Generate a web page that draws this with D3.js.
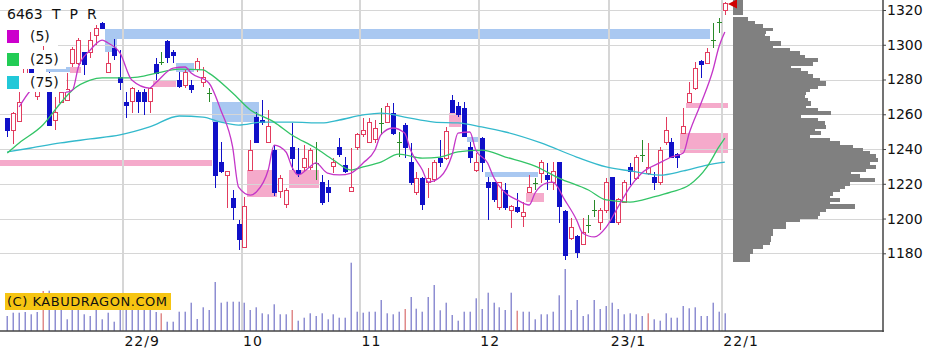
<!DOCTYPE html>
<html>
<head>
<meta charset="utf-8">
<script src="https://cdn.jsdelivr.net/npm/d3@7"></script>
<style>
  html, body { margin: 0; padding: 0; background: #fff; }
  svg { display: block; font-family: "DejaVu Sans", Verdana, sans-serif; }
</style>
</head>
<body>
<div id="chart"></div>
<script>
// daily candles, [open, high, low, close]
const ohlc = [
  [1257.3, 1257.9, 1246.9, 1250.4], [1250.4, 1261.3, 1242.9, 1260.7], [1256.1, 1274.0, 1255.5, 1266.5],
  [1276.0, 1290.0, 1274.5, 1287.0], [1290.0, 1293.0, 1281.0, 1284.0], [1270.0, 1284.0, 1268.2, 1276.0],
  [1288.0, 1299.0, 1287.2, 1294.0], [1274.0, 1284.3, 1253.3, 1253.8], [1256.7, 1269.9, 1250.9, 1261.3],
  [1266.5, 1274.0, 1266.5, 1272.8], [1268.2, 1283.7, 1268.2, 1274.0], [1289.5, 1298.7, 1287.2, 1297.0],
  [1289.5, 1303.9, 1288.4, 1302.7], [1295.3, 1295.8, 1282.6, 1288.4], [1295.3, 1307.3, 1292.4, 1302.7],
  [1305.6, 1311.4, 1299.8, 1309.6], [1312.5, 1313.0, 1309.1, 1309.6], [1284.3, 1295.8, 1283.7, 1289.5],
  [1298.1, 1303.3, 1291.2, 1294.1], [1280.9, 1297.0, 1274.0, 1278.0], [1266.5, 1272.8, 1257.9, 1264.8],
  [1267.1, 1275.7, 1260.7, 1275.1], [1272.8, 1274.0, 1260.7, 1267.1], [1272.8, 1274.5, 1259.6, 1267.1],
  [1267.1, 1275.7, 1260.7, 1275.1], [1288.4, 1292.4, 1279.7, 1283.7], [1290.1, 1295.8, 1288.4, 1290.1],
  [1301.6, 1302.7, 1289.5, 1292.9], [1295.8, 1297.0, 1289.5, 1294.1], [1279.7, 1284.3, 1275.1, 1275.7],
  [1276.8, 1285.5, 1275.1, 1284.3], [1276.8, 1279.7, 1272.2, 1274.0], [1285.5, 1292.4, 1284.3, 1290.1],
  [1278.0, 1287.2, 1275.7, 1280.9], [1272.2, 1275.1, 1267.1, 1272.2], [1255.5, 1255.5, 1217.6, 1225.0],
  [1232.0, 1243.8, 1226.2, 1226.8], [1225.0, 1226.8, 1206.1, 1226.8], [1211.8, 1216.4, 1199.2, 1206.1],
  [1196.3, 1199.2, 1181.9, 1187.7], [1183.1, 1212.4, 1183.1, 1206.7], [1227.9, 1245.2, 1227.9, 1239.4],
  [1257.9, 1261.3, 1243.2, 1244.0], [1256.7, 1268.2, 1253.8, 1255.0], [1244.0, 1262.5, 1243.2, 1252.7],
  [1239.4, 1242.3, 1213.0, 1214.7], [1215.3, 1225.0, 1211.8, 1223.3], [1207.8, 1217.6, 1206.1, 1216.4],
  [1240.6, 1255.0, 1227.9, 1234.8], [1227.9, 1240.6, 1223.9, 1226.2], [1229.1, 1242.3, 1226.8, 1234.8],
  [1229.1, 1240.6, 1227.9, 1239.4], [1232.0, 1244.0, 1222.2, 1232.0], [1220.5, 1225.0, 1208.0, 1209.5],
  [1217.6, 1222.2, 1209.5, 1214.7], [1229.7, 1234.8, 1226.2, 1232.5], [1240.6, 1246.3, 1235.4, 1236.6],
  [1230.8, 1235.4, 1226.2, 1226.8], [1215.3, 1240.6, 1215.3, 1217.6], [1240.6, 1249.2, 1239.4, 1248.1],
  [1248.1, 1257.9, 1246.9, 1250.9], [1244.0, 1257.9, 1243.2, 1255.0], [1245.2, 1256.7, 1243.2, 1252.1],
  [1255.0, 1263.6, 1248.1, 1255.0], [1255.5, 1266.5, 1255.0, 1264.2], [1260.7, 1266.5, 1248.1, 1249.2],
  [1244.0, 1249.8, 1235.4, 1244.0], [1253.8, 1255.0, 1234.8, 1240.6], [1232.5, 1243.5, 1219.3, 1220.5],
  [1214.7, 1226.8, 1213.5, 1223.3], [1223.3, 1223.9, 1204.9, 1207.8], [1220.5, 1229.1, 1211.8, 1223.3],
  [1222.2, 1233.7, 1221.0, 1232.0], [1234.8, 1245.2, 1229.7, 1232.0], [1234.8, 1252.7, 1233.7, 1249.8],
  [1268.2, 1271.1, 1260.7, 1261.0], [1264.2, 1267.1, 1258.4, 1259.6], [1263.6, 1267.1, 1246.9, 1247.0],
  [1240.6, 1244.0, 1232.0, 1235.4], [1227.9, 1237.7, 1226.8, 1232.5], [1246.3, 1246.9, 1226.8, 1232.5],
  [1221.0, 1223.9, 1199.2, 1217.6], [1220.5, 1221.0, 1209.5, 1210.7], [1206.1, 1221.0, 1204.9, 1220.5],
  [1216.4, 1220.5, 1204.9, 1206.1], [1204.9, 1207.8, 1194.6, 1206.7], [1206.1, 1214.7, 1203.2, 1203.8],
  [1200.9, 1209.5, 1195.1, 1203.2], [1214.7, 1225.0, 1214.7, 1217.6], [1220.5, 1223.3, 1216.4, 1220.5],
  [1226.2, 1233.7, 1220.5, 1232.5], [1225.0, 1231.7, 1216.4, 1222.2], [1220.5, 1232.5, 1216.4, 1226.8],
  [1232.0, 1232.0, 1197.4, 1206.7], [1203.8, 1204.9, 1176.2, 1179.0], [1188.8, 1200.3, 1187.7, 1194.6],
  [1189.4, 1190.5, 1177.3, 1180.2], [1184.8, 1200.3, 1184.8, 1191.7], [1196.3, 1202.0, 1191.7, 1196.3],
  [1204.9, 1210.7, 1200.9, 1204.9], [1198.0, 1206.1, 1193.4, 1204.9], [1204.9, 1223.3, 1203.2, 1220.5],
  [1223.9, 1223.9, 1197.4, 1198.0], [1198.0, 1211.8, 1196.3, 1210.7], [1209.0, 1222.2, 1209.0, 1221.0],
  [1229.1, 1232.0, 1219.3, 1226.8], [1223.3, 1236.6, 1222.2, 1235.4], [1236.6, 1245.2, 1232.5, 1236.6],
  [1226.2, 1243.5, 1225.0, 1229.1], [1223.9, 1226.8, 1216.4, 1220.5], [1220.5, 1241.2, 1219.3, 1239.4],
  [1243.5, 1258.4, 1242.3, 1250.9], [1244.0, 1246.3, 1234.8, 1235.4], [1237.1, 1237.7, 1229.1, 1235.4],
  [1249.2, 1263.6, 1249.2, 1252.7], [1266.5, 1278.4, 1266.5, 1272.2], [1275.1, 1290.1, 1274.0, 1286.6],
  [1290.1, 1291.2, 1280.9, 1288.4], [1289.5, 1298.1, 1289.5, 1295.3], [1302.7, 1312.5, 1298.1, 1302.7],
  [1313.1, 1315.4, 1306.8, 1313.1], [1320.0, 1324.6, 1317.1, 1323.5]
];

// daily volume (thousand shares)
const volume = [
  15, 18.3, 18.3, 19, 16.7, 19, 40, 40.3, 22, 22, 11.7, 22, 22, 16.7, 15, 21, 11.7, 18.3, 9.3, 24,
  22, 23, 22, 22, 22, 19, 17.7, 9.3, 9.3, 19.3, 19.3, 28.3, 12, 23.7, 21, 49, 28.3, 29.3, 29.3, 29.3,
  28.3, 21, 23.7, 17.7, 16.7, 26.7, 16.7, 16.7, 21, 10.3, 13.3, 17.7, 15, 17.7, 11.7, 16.7, 13.3, 13.3, 68.3, 19.3,
  18.3, 19.3, 19.3, 31, 17.7, 16.7, 19.3, 22, 34, 22.3, 19.3, 34, 46, 20.7, 28.3, 16, 10.3, 19.3, 19.3, 32.7,
  22, 38.3, 28.3, 23.7, 21, 38.3, 20.3, 19.3, 19.3, 11.7, 16.7, 16.7, 19.3, 35.7, 62, 21, 31, 15, 16.7, 31,
  22, 25, 28.3, 22, 16.7, 17.7, 16.7, 15, 17.7, 11.7, 10.3, 17.7, 13.3, 13.3, 25, 22.7, 23.7, 15, 15, 28.3,
  19.3, 17.7
];
const markedVolumeDays = [6, 26, 48, 67, 86, 108];

// moving averages, [day index, price]
const ma5 = [
  [2, 1264.2], [4, 1274.0], [5, 1276.8], [10, 1272.8], [11, 1274.0], [12, 1287.2], [14, 1297.0], [16, 1302.7],
  [17, 1301.0], [19, 1295.3], [21, 1279.7], [24, 1275.1], [25, 1278.0], [28, 1286.6], [30, 1287.2], [31, 1283.7],
  [34, 1278.0], [36, 1262.5], [38, 1241.2], [39, 1218.1], [41, 1213.5], [42, 1215.3], [44, 1227.9], [45, 1242.3],
  [47, 1238.3], [48, 1229.7], [49, 1225.1], [51, 1229.7], [52, 1232.0], [54, 1226.2], [56, 1225.1], [58, 1226.2],
  [60, 1232.0], [62, 1239.4], [63, 1248.1], [65, 1252.1], [67, 1249.2], [68, 1239.4], [70, 1227.9], [71, 1221.0],
  [73, 1223.9], [75, 1236.6], [76, 1249.2], [78, 1249.8], [79, 1239.4], [81, 1232.0], [82, 1223.9], [84, 1214.7],
  [86, 1210.7], [88, 1207.8], [89, 1214.7], [91, 1220.5], [92, 1221.0], [94, 1210.7], [96, 1199.2], [97, 1191.7],
  [99, 1189.4], [101, 1195.1], [103, 1206.7], [105, 1218.1], [107, 1226.2], [110, 1232.0], [112, 1235.4],
  [114, 1237.7], [115, 1249.2], [117, 1266.5], [119, 1285.5], [120, 1298.7], [121, 1307.3]
];
const ma25 = [
  [0, 1237.7], [2, 1243.5], [6, 1253.8], [9, 1266.5], [11, 1274.0], [14, 1279.7], [16, 1280.9], [19, 1280.9],
  [22, 1281.4], [26, 1284.3], [29, 1286.0], [33, 1285.5], [34, 1283.7], [38, 1272.2], [41, 1262.5], [45, 1255.5],
  [48, 1248.1], [52, 1240.6], [55, 1233.7], [58, 1227.9], [60, 1229.7], [63, 1232.5], [66, 1237.1], [70, 1234.8],
  [73, 1235.4], [76, 1238.3], [80, 1239.4], [84, 1235.4], [89, 1230.2], [93, 1223.3], [98, 1216.4], [101, 1210.7],
  [105, 1209.5], [109, 1212.4], [112, 1215.3], [115, 1219.3], [118, 1229.7], [120, 1241.2], [121, 1246.3]
];
const ma75 = [
  [0, 1238.3], [4, 1240.6], [9, 1243.5], [14, 1245.8], [19, 1248.1], [24, 1252.7], [29, 1259.0], [33, 1258.4],
  [36, 1255.5], [39, 1253.8], [43, 1255.5], [48, 1255.5], [53, 1255.0], [56, 1256.7], [60, 1259.6], [63, 1260.7],
  [67, 1258.4], [72, 1255.5], [76, 1255.0], [80, 1252.7], [84, 1249.8], [90, 1243.5], [96, 1235.4], [101, 1229.7],
  [105, 1227.4], [110, 1225.0], [114, 1227.4], [118, 1230.8], [121, 1232.5]
];

// price gaps (windows): [first day, last day, low, high, direction]
const gaps = [
  [0, 34, 1230.2, 1233.7, "up"], [7, 10, 1284.3, 1287.2, "down"], [11, 12, 1283.7, 1287.2, "up"],
  [17, 18, 1295.8, 1303.3, "down"], [17, 118, 1303.3, 1309.1, "down"], [25, 28, 1275.7, 1279.7, "up"],
  [29, 31, 1284.3, 1289.5, "down"], [35, 42, 1255.5, 1267.1, "down"], [41, 45, 1212.4, 1227.9, "up"],
  [48, 52, 1217.6, 1227.9, "up"], [75, 76, 1252.7, 1260.7, "up"], [78, 79, 1244.0, 1246.9, "down"],
  [81, 89, 1223.9, 1226.8, "down"], [88, 90, 1209.5, 1214.7, "up"], [114, 121, 1237.7, 1249.2, "up"],
  [115, 121, 1263.6, 1266.5, "up"]
];

// volume by price (bin edges high to low, and volume per bin)
const profileEdges = [
  1315.8, 1313.3, 1311.9, 1309.4, 1308.1, 1306.6, 1304.6, 1301.8, 1299.8, 1297.9, 1296.0, 1294.1, 1292.2,
  1290.3, 1288.3, 1286.4, 1284.5, 1282.6, 1280.7, 1278.8, 1276.8, 1274.9, 1273.0, 1271.1, 1269.2, 1267.2,
  1265.3, 1263.4, 1261.5, 1259.6, 1257.7, 1255.7, 1253.8, 1251.9, 1250.0, 1248.1, 1246.2, 1244.2, 1242.3,
  1240.4, 1238.5, 1236.6, 1234.6, 1232.7, 1230.8, 1228.9, 1227.0, 1225.1, 1223.1, 1221.2, 1219.3, 1217.4,
  1215.5, 1213.5, 1211.6, 1209.7, 1207.8, 1205.9, 1204.0, 1202.0, 1200.1, 1198.2, 1196.3, 1194.4, 1192.5,
  1190.5, 1188.6, 1186.7, 1184.8, 1182.9, 1180.0, 1175.2
];
const profileVolume = [
  15, 21.7, 30, 40, 33.3, 31.7, 36.7, 48.3, 40, 56.7, 66.7, 71.7, 85, 80, 58.3, 68.3, 75, 80, 86.7, 93.3,
  85, 76.7, 73.3, 71.7, 75, 78.3, 73.3, 85, 98.3, 68.3, 85, 91.7, 93.3, 81.7, 88.3, 76.7, 96.7, 106.7, 120, 130,
  136.7, 143.3, 145, 136.7, 143.3, 133.3, 118.3, 126.7, 141.7, 116.7, 111.7, 106.7, 100, 96.7, 106.7, 96.7,
  121.7, 93.3, 86.7, 85, 66.7, 53.3, 53.3, 40, 40, 38.3, 38.3, 36.7, 30, 20, 16.7
];

const priceTicks = [1180, 1200, 1220, 1240, 1260, 1280, 1300, 1320];
const monthStarts = [20, 40, 60, 80, 102, 121];
const monthLabels = ["22/9", "10", "11", "12", "23/1", "22/1"];
const legendItems = [
  { label: "(5)", color: "#cc00cc" },
  { label: "(25)", color: "#22cc55" },
  { label: "(75)", color: "#22c8d8" }
];

const width = 946;
const height = 351;
const axisX = 883;
const volBottom = 331;

const x = d3.scaleBand().domain(d3.range(ohlc.length)).range([4.3, 727.8]);
const cx = (i) => x(i) + x.bandwidth() / 2;
const y = d3.scaleLinear().domain([1180, 1320]).range([253.3, 10]);
const yVol = d3.scaleLinear().domain([0, 80]).range([volBottom, volBottom - 80]);
const xProf = d3.scaleLinear().domain([0, 150]).range([733, 883]);

const svg = d3
  .select("#chart")
  .append("svg")
  .attr("width", width)
  .attr("height", height)
  .attr("viewBox", `0 0 ${width} ${height}`);

svg.append("rect").attr("width", width).attr("height", height).attr("fill", "#fff");

// gap windows
svg
  .append("g")
  .attr("shape-rendering", "crispEdges")
  .selectAll("rect")
  .data(gaps)
  .join("rect")
  .attr("x", (d) => (d[0] === 0 ? 0 : x(d[0])))
  .attr("y", (d) => y(d[3]))
  .attr("width", (d) => x(d[1]) + x.bandwidth() - (d[0] === 0 ? 0 : x(d[0])))
  .attr("height", (d) => y(d[2]) - y(d[3]))
  .attr("fill", (d) => (d[4] === "up" ? "#f5aacb" : "#a9c8f1"));

// grid
const grid = svg.append("g").attr("stroke", "#d6d6d6").attr("shape-rendering", "crispEdges");
grid
  .selectAll("line.h")
  .data(priceTicks)
  .join("line")
  .attr("x1", 0)
  .attr("x2", axisX)
  .attr("y1", (d) => Math.round(y(d)) + 0.5)
  .attr("y2", (d) => Math.round(y(d)) + 0.5)
  .attr("stroke-width", 1.5);
grid
  .selectAll("line.v")
  .data(monthStarts)
  .join("line")
  .attr("x1", (d) => Math.round(x(d)))
  .attr("x2", (d) => Math.round(x(d)))
  .attr("y1", 0)
  .attr("y2", volBottom)
  .attr("stroke-width", 2);

// volume bars
svg
  .append("g")
  .selectAll("rect")
  .data(volume)
  .join("rect")
  .attr("x", (d, i) => Math.round(cx(i)) - 0.5)
  .attr("y", (d) => yVol(d))
  .attr("width", 1.5)
  .attr("height", (d) => volBottom - yVol(d))
  .attr("fill", (d, i) => (markedVolumeDays.includes(i) ? "#e08a8a" : "#8e8ed2"));

// volume by price
svg
  .append("g")
  .attr("shape-rendering", "crispEdges")
  .selectAll("rect")
  .data(profileVolume)
  .join("rect")
  .attr("x", xProf(0))
  .attr("y", (d, i) => Math.floor(y(profileEdges[i])))
  .attr("width", (d) => xProf(d) - xProf(0))
  .attr("height", (d, i) => Math.ceil(y(profileEdges[i + 1])) - Math.floor(y(profileEdges[i])))
  .attr("fill", "#808080");

// candles
const candleColor = (d) => (d[3] > d[0] ? "#e23c5e" : d[3] < d[0] ? "#1010c8" : "#2a8a2a");

const candles = svg
  .append("g")
  .attr("shape-rendering", "crispEdges")
  .selectAll("g")
  .data(ohlc)
  .join("g")
  .attr("transform", (d, i) => `translate(${Math.round(cx(i))},0)`);

candles
  .append("line")
  .attr("x1", 0.5)
  .attr("x2", 0.5)
  .attr("y1", (d) => y(d[1]))
  .attr("y2", (d) => y(d[2]))
  .attr("stroke", candleColor);

candles
  .filter((d) => d[3] !== d[0])
  .append("rect")
  .attr("x", -1.5)
  .attr("y", (d) => y(Math.max(d[0], d[3])))
  .attr("width", 4)
  .attr("height", (d) => Math.max(1, Math.abs(y(d[0]) - y(d[3]))))
  .attr("fill", (d) => (d[3] > d[0] ? "#fff" : "#1010c8"))
  .attr("stroke", candleColor)
  .attr("stroke-width", 1);

candles
  .filter((d) => d[3] === d[0])
  .append("line")
  .attr("x1", -2)
  .attr("x2", 3)
  .attr("y1", (d) => Math.round(y(d[0])) + 0.5)
  .attr("y2", (d) => Math.round(y(d[0])) + 0.5)
  .attr("stroke", "#2a8a2a");

// moving averages
const maLine = d3
  .line()
  .x((d) => cx(d[0]))
  .y((d) => y(d[1]))
  .curve(d3.curveMonotoneX);

[
  [ma75, "#33b9cc"],
  [ma25, "#33c466"],
  [ma5, "#c436c8"]
].forEach(([series, color]) => {
  svg
    .append("path")
    .datum(series)
    .attr("fill", "none")
    .attr("stroke", color)
    .attr("stroke-width", 1.3)
    .attr("d", maLine);
});

// last price marker
const last = ohlc[ohlc.length - 1];
svg
  .append("rect")
  .attr("x", 733)
  .attr("y", 0)
  .attr("width", 10)
  .attr("height", y(last[2]))
  .attr("fill", "#808080");
svg
  .append("path")
  .attr("d", `M728,${y(last[3])} l9,-4.5 v9 z`)
  .attr("fill", "#d00000");

// legend
svg
  .append("text")
  .attr("x", 7)
  .attr("y", 19)
  .attr("font-size", 14)
  .attr("fill", "#111")
  .text("6463");
svg
  .append("text")
  .attr("x", 52)
  .attr("y", 19)
  .attr("font-size", 14)
  .attr("letter-spacing", 2.3)
  .attr("fill", "#111")
  .text("T P R");

const legend = svg
  .append("g")
  .selectAll("g")
  .data(legendItems)
  .join("g")
  .attr("transform", (d, i) => `translate(0, ${30 + i * 23})`);
legend
  .append("rect")
  .attr("x", 0)
  .attr("y", -3)
  .attr("width", (d) => (d.label.length > 3 ? 66 : 58))
  .attr("height", 19)
  .attr("fill", "#fff");
legend
  .append("rect")
  .attr("x", 7)
  .attr("y", 0)
  .attr("width", 12)
  .attr("height", 13)
  .attr("fill", (d) => d.color);
legend
  .append("text")
  .attr("x", 30)
  .attr("y", 11)
  .attr("font-size", 14)
  .attr("fill", "#111")
  .text((d) => d.label);

// copyright badge
svg
  .append("rect")
  .attr("x", 5)
  .attr("y", 293)
  .attr("width", 166)
  .attr("height", 17)
  .attr("fill", "#f6c512");
svg
  .append("text")
  .attr("x", 7)
  .attr("y", 306)
  .attr("font-size", 13)
  .attr("textLength", 160)
  .attr("lengthAdjust", "spacing")
  .attr("fill", "#111")
  .text("(C) KABUDRAGON.COM");

// axes
svg
  .append("line")
  .attr("x1", axisX)
  .attr("x2", axisX)
  .attr("y1", 0)
  .attr("y2", volBottom + 1)
  .attr("stroke", "#444")
  .attr("stroke-width", 1.5);
svg
  .append("line")
  .attr("x1", 0)
  .attr("x2", axisX + 0.75)
  .attr("y1", volBottom)
  .attr("y2", volBottom)
  .attr("stroke", "#444")
  .attr("stroke-width", 1.5);

const yAxis = svg
  .append("g")
  .attr("transform", `translate(${axisX},0)`)
  .call(d3.axisRight(y).tickValues(priceTicks).tickSize(3).tickPadding(1).tickFormat(d3.format("d")));
yAxis.select(".domain").remove();
yAxis.selectAll("line").attr("stroke", "#444");
yAxis
  .selectAll("text")
  .attr("font-size", 14)
  .attr("font-family", "DejaVu Sans, Verdana, sans-serif")
  .attr("fill", "#111");

svg
  .append("g")
  .selectAll("text")
  .data(monthStarts)
  .join("text")
  .attr("x", (d) => x(d) + 1.5)
  .attr("y", 346)
  .attr("font-size", 14)
  .attr("letter-spacing", 1)
  .attr("fill", "#111")
  .text((d, i) => monthLabels[i]);
</script>
</body>
</html>
